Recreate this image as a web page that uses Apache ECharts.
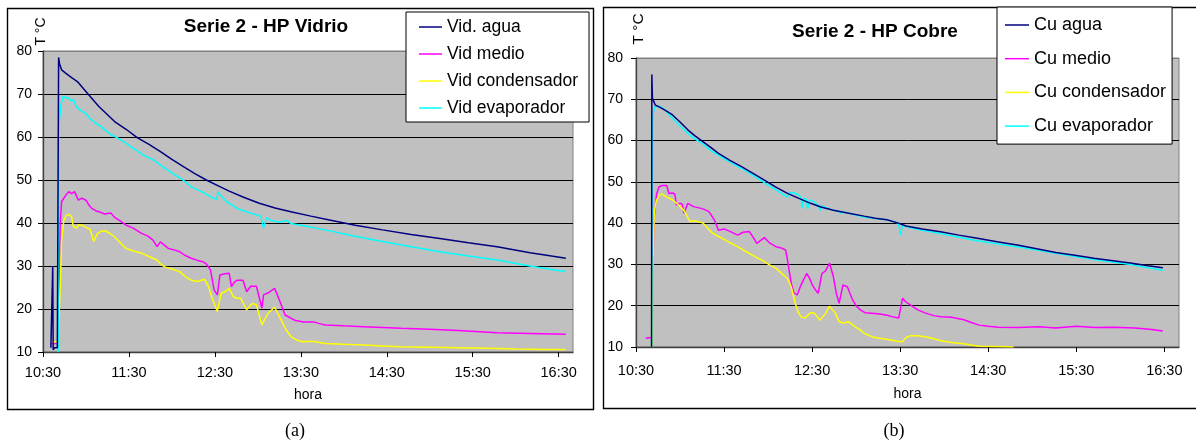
<!DOCTYPE html>
<html>
<head>
<meta charset="utf-8">
<script src="https://cdn.jsdelivr.net/npm/echarts@6/dist/echarts.min.js"></script>
<style>
html,body{margin:0;padding:0;background:#fff;}
#c{width:1196px;height:441px;}
</style>
</head>
<body>
<div id="c"></div>
<script>
// x values are minutes after 10:30
const tickMinutes = [0, 60, 120, 180, 240, 300, 360];
const yTicks = [10, 20, 30, 40, 50, 60, 70, 80];
const namesVidrio = ['Vid. agua', 'Vid medio', 'Vid condensador', 'Vid evaporador'];
const namesCobre = ['Cu agua', 'Cu medio', 'Cu condensador', 'Cu evaporador'];

const vidAgua = [[5.5,11],[6.5,11.2],[6.8,30],[7.1,10.5],[8,11],[10,11],[10.6,11],[10.9,78.5],[11.6,77],[13,75.6],[16,74.8],[20,73.8],[24,72.9],[31,70.2],[39,67.1],[50,63.6],[58,61.8],[66,59.8],[74,58.3],[82,56.6],[90,54.8],[98,53.1],[106,51.5],[114,50.0],[122,48.7],[130,47.4],[140,46.0],[151,44.6],[162,43.5],[173,42.6],[187,41.6],[200,40.7],[218,39.5],[237,38.4],[257,37.3],[277,36.4],[297,35.4],[317,34.5],[340,33.1],[355,32.3],[365,31.8]];
const vidMedio = [[5.5,12],[10.5,12],[11,20],[12,40],[13,45],[14,45.3],[16,46.5],[18,47.3],[20,46.8],[22,47.3],[24.7,45.3],[27,45.8],[30,45.3],[32,44.2],[34,43.4],[37,42.8],[39.4,42.6],[43,42.1],[47.5,42.3],[50,41.3],[52.8,40.7],[58,39.5],[63,38.8],[68.8,37.6],[73,37],[76.8,36],[79.6,34.5],[82,35.6],[87.5,34.1],[91,33.8],[95.5,33.3],[99,32.5],[103.5,31.8],[108,31.3],[111.5,31],[114,30.5],[116.9,29.1],[119.5,24.4],[121.7,23.3],[123.5,27.9],[127,28.2],[130,28.3],[131.5,25.2],[133.5,26.2],[135.6,26.7],[139.6,26.7],[142.2,24],[145,25.3],[149,25.3],[152.8,20.2],[154,23.3],[158,23.9],[161.7,24.8],[165,22.1],[169,18.6],[175.6,17.4],[182,17],[189,17],[193,16.6],[197,16.3],[210,16.1],[223.7,15.9],[237,15.7],[250,15.5],[270,15.3],[290,15],[317,14.5],[340,14.3],[365,14.1]];
const vidCond = [[5.5,12.4],[10.5,12.4],[11.2,12],[12,25],[13,36],[14.5,40.5],[16,41.7],[18,42],[20,41.5],[21,39.3],[23.4,38.8],[25,39.6],[27.4,39.5],[30,39],[33,38.5],[35.4,35.7],[38,37.6],[41,38.1],[43.4,38.2],[47,37.5],[50,36.8],[54,35.4],[58,34.1],[63,33.5],[68.8,33],[74,32.2],[79.6,31.4],[82,30.5],[84.9,29.8],[90,29.3],[95.5,28.7],[99,27.6],[103.5,26.7],[108,26.4],[112.8,26.9],[115.6,25.2],[118,22.5],[121.7,19.4],[124.3,23.6],[127,24],[130,24.8],[132.8,22.9],[135,22.5],[138,22.5],[142.2,19.8],[146,21.3],[149,21],[152.8,16.3],[157,19],[161.7,20.4],[166.3,17.4],[170,15],[173,13.6],[177,12.8],[181,12.4],[188,12.5],[197,12],[210,11.8],[223.7,11.6],[237,11.4],[250,11.2],[270,11.1],[290,11],[310,10.9],[330.5,10.7],[350,10.6],[365,10.6]];
const vidEvap = [[10.6,10],[10.9,62],[11.5,64],[12.5,67.5],[14,69.4],[16,69.2],[18,69.0],[20,68.3],[21,68.8],[23.4,67],[27,66],[30,65.5],[33,64.2],[36.8,63.2],[40,62.6],[44.8,61.2],[48,60.4],[52,59.8],[58,58.5],[64,57.2],[70,55.8],[77,54.7],[84,53],[90,51.6],[97,50.2],[103.5,48.4],[110,47.4],[116,46.3],[119.5,45.7],[121.5,45.5],[122,47.3],[123,46.8],[128,45],[135.6,43.4],[142,42.6],[148,42],[152,41.6],[154,38.8],[156,41.2],[160,40.5],[165,40.2],[170,40.6],[173,39.9],[180,39.5],[197,38.4],[217,37],[237,35.7],[257,34.5],[277,33.3],[297,32.3],[317,31.4],[340,30],[355,29.2],[365,28.7]];

const cuAgua = [[10.6,10],[10.8,76],[11.2,70.3],[12,70.5],[13.1,68.6],[15,68.3],[17,67.9],[20,67.3],[24.9,66.2],[30,64.5],[35.3,62.6],[40,61.2],[45.8,59.7],[50,58.6],[56.2,56.9],[64,55.2],[71.9,53.7],[80,52],[87.5,50.4],[95,48.8],[103.2,47.2],[111,46],[118.9,44.8],[126,43.9],[134.5,43.1],[145,42.4],[155.4,41.7],[163,41.2],[171,40.8],[178.8,40.0],[184,39.3],[195,38.6],[207.5,37.9],[220,37.1],[233.6,36.3],[246,35.5],[259.8,34.7],[273,33.8],[286,32.9],[299,32.2],[312,31.5],[325,30.9],[338,30.3],[349,29.7],[359,29.2]];
const cuMedio = [[6.6,12.1],[10.5,12.3],[11,13],[11.5,30],[12.5,42],[14,47],[15.7,48.8],[18,49.1],[21,49.1],[22.3,47.2],[25,47.3],[26.5,47],[27.5,44.4],[30,44.8],[31.5,44.6],[32.7,42.4],[35.3,44.8],[39.2,44],[43,43.7],[46,43.4],[49.7,42.8],[51.5,41.8],[53.6,40.6],[56.2,38.3],[60,38.6],[64,38],[69.3,37.1],[73,37.8],[77.1,38],[80,36.5],[82.3,35.1],[87.5,36.5],[91,35.2],[95.4,34.3],[99,34],[101.9,33.5],[103.2,31.1],[105.8,25.4],[107.5,23.2],[109.8,22.6],[112.4,25],[116.3,27.8],[118,26.8],[120.2,25],[122,24],[124.1,23],[126.7,27.8],[129,28.4],[131.9,30.3],[134.5,27],[136.5,23],[138.4,20.6],[141,25],[144,24.6],[147.6,21.4],[150,20],[152.9,19],[156,18.3],[160.7,18.2],[166,18],[171.2,17.7],[175,17.3],[179,17],[180.3,16.6],[181.6,21.8],[184,20.9],[186.9,20.2],[192,19],[197.3,18.2],[203,17.6],[207.8,17.3],[215,17.2],[223.4,16.6],[228,16],[233.9,15.3],[240,15],[246.9,14.8],[260,14.7],[275,14.9],[286,14.6],[300,15],[313,14.7],[325,14.8],[340,14.6],[350,14.3],[359,13.9]];
const cuCond = [[11,10],[11.5,30],[12.5,43],[14,45.6],[16,46.8],[17.5,47.1],[21,46.3],[25,45.6],[29,44.4],[32.7,43.1],[36.7,40.4],[40,40.6],[45.8,40],[51,37.9],[55,37],[58.8,36.3],[64,35.3],[69.2,34.3],[73,33.5],[77.1,32.7],[82,31.7],[87.5,30.7],[91,29.9],[95.4,29.1],[99,27.9],[103.2,26.6],[105.8,24.6],[108.5,20.6],[110.5,18.5],[112.4,17.3],[115,17],[118.9,18.3],[121.5,18.2],[125.4,16.5],[129.3,18.2],[131.9,19.9],[135.8,18.2],[138.4,16.1],[141,15.8],[145,16.1],[149,15],[152.9,14.1],[156,13.2],[160.7,12.5],[166,12.1],[173.8,11.7],[178,11.4],[181.6,11.3],[184,12.3],[186.9,12.7],[192,12.7],[198,12.4],[203,12],[207.8,11.5],[215,11.1],[223.4,10.8],[228,10.5],[233.9,10.2],[245,10.1],[257.3,10]];
const cuEvap = [[10.7,10],[11,60],[11.4,66],[12.5,68],[14,68.3],[17,68.2],[20,67.3],[24.9,65.4],[30,63.6],[35.3,61.8],[40,60.4],[45.8,59.2],[50,57.8],[56.2,56.5],[64,54.8],[71.9,53.3],[80,51.5],[87.5,49.8],[95,48.1],[103.2,46.3],[104.5,47.4],[108,47.3],[111,46.8],[112.5,46.2],[113.2,43.7],[114,46],[116,45.8],[117,43.4],[118.2,45.6],[121,45.2],[124,44.4],[125.5,43],[126.5,44.2],[130,43.7],[134.5,43.1],[138,42.9],[140,42.3],[141,42.8],[148,42.1],[155.4,41.5],[163,41.1],[171,40.8],[178.8,40.0],[180.3,37.1],[181.5,39.4],[186,39.0],[195,38.3],[207.5,37.5],[220,36.6],[233.6,35.7],[246,35],[259.8,34.3],[273,33.5],[286,32.7],[299,31.9],[312,31.2],[325,30.6],[338,29.9],[349,29.2],[359,28.6]];

const colors = ['#000080', '#ff00ff', '#ffff00', '#00ffff'];
const FONT = '"Liberation Sans", Arial, sans-serif';

function fmtTime(v) {
  const total = 630 + v;
  const h = Math.floor(total / 60);
  const m = Math.round(total % 60);
  return h + ':' + (m < 10 ? '0' + m : m);
}

function makeX(gi, margin, nameGap) {
  return {
    type: 'value', gridIndex: gi, min: 0, max: 370,
    name: 'hora', nameLocation: 'middle', nameGap: nameGap,
    nameTextStyle: { fontFamily: FONT, fontSize: 14, color: '#000' },
    axisLine: { show: true, lineStyle: { color: '#404040', width: 1.3 } },
    axisTick: { show: true, length: 5, customValues: tickMinutes, lineStyle: { color: '#000' } },
    axisLabel: { customValues: tickMinutes, formatter: fmtTime, margin: margin, fontFamily: FONT, fontSize: 14.5, color: '#000' },
    splitLine: { show: false }
  };
}
function makeY(gi, margin) {
  return {
    type: 'value', gridIndex: gi, min: yTicks[0], max: yTicks[yTicks.length - 1], interval: 10,
    axisLine: { show: true, lineStyle: { color: '#404040', width: 1.3 } },
    axisTick: { show: true, length: 5, lineStyle: { color: '#000' } },
    axisLabel: { margin: margin, fontFamily: FONT, fontSize: 14, color: '#000' },
    splitLine: { show: true, lineStyle: { color: ['#000','#000','#000','#000','#000','#000','#000','#808080'], width: 1 } }
  };
}
function makeSeries(names, datas, gi) {
  return names.map((n, i) => ({
    name: n, type: 'line', xAxisIndex: gi, yAxisIndex: gi,
    data: datas[i], showSymbol: false, symbol: 'none',
    lineStyle: { color: colors[i], width: 1.5 }, itemStyle: { color: colors[i] },
    z: i === 0 ? 5 : 3 + i * 0.1, silent: true, animation: false
  }));
}

const chart = echarts.init(document.getElementById('c'), null, { renderer: 'canvas' });
chart.setOption({
  animation: false,
  backgroundColor: '#fff',
  grid: [
    { left: 43, top: 51, width: 530, height: 301, show: true, backgroundColor: '#c0c0c0', borderColor: '#808080', borderWidth: 1 },
    { left: 636, top: 58, width: 543, height: 289, show: true, backgroundColor: '#c0c0c0', borderColor: '#808080', borderWidth: 1 }
  ],
  xAxis: [makeX(0, 13, 36), makeX(1, 16, 40)],
  yAxis: [makeY(0, 11), makeY(1, 13)],
  legend: [
    {
      data: namesVidrio, orient: 'vertical', left: 406, top: 12, selectedMode: false,
      backgroundColor: '#fff', borderColor: '#000', borderWidth: 1,
      icon: 'rect', itemWidth: 23, itemHeight: 1.5,
      padding: [6, 11, 5, 13], itemGap: 9,
      textStyle: { fontFamily: FONT, fontSize: 17.5, color: '#000' }
    },
    {
      data: namesCobre, orient: 'vertical', left: 997, top: 7, selectedMode: false,
      backgroundColor: '#fff', borderColor: '#000', borderWidth: 1,
      icon: 'rect', itemWidth: 24, itemHeight: 1.5,
      padding: [9, 6, 9, 8], itemGap: 15.7,
      textStyle: { fontFamily: FONT, fontSize: 18, color: '#000' }
    }
  ],
  graphic: [
    { type: 'rect', shape: { x: 7.5, y: 8.5, width: 586, height: 401 }, style: { fill: null, stroke: '#000', lineWidth: 1.4 }, z: -1, silent: true },
    { type: 'rect', shape: { x: 603.5, y: 7.5, width: 640, height: 401 }, style: { fill: null, stroke: '#000', lineWidth: 1.4 }, z: -1, silent: true },
    { type: 'text', x: 266, y: 27, style: { text: 'Serie 2 - HP Vidrio', font: 'bold 19px ' + FONT, fill: '#000', textAlign: 'center', textVerticalAlign: 'middle' } },
    { type: 'text', x: 875, y: 32, style: { text: 'Serie 2 - HP Cobre', font: 'bold 19px ' + FONT, fill: '#000', textAlign: 'center', textVerticalAlign: 'middle' } },
    { type: 'text', x: 41.5, y: 31.5, rotation: Math.PI / 2, style: { text: 'T °C', font: '14px ' + FONT, fill: '#000', textAlign: 'center', textVerticalAlign: 'middle' } },
    { type: 'text', x: 639, y: 29, rotation: Math.PI / 2, style: { text: 'T °C', font: '15.5px ' + FONT, fill: '#000', textAlign: 'center', textVerticalAlign: 'middle' } },
    { type: 'text', x: 295, y: 431, style: { text: '(a)', font: '18px "Liberation Serif", "Times New Roman", serif', fill: '#000', textAlign: 'center', textVerticalAlign: 'middle' } },
    { type: 'text', x: 894, y: 431, style: { text: '(b)', font: '18px "Liberation Serif", "Times New Roman", serif', fill: '#000', textAlign: 'center', textVerticalAlign: 'middle' } }
  ],
  series: [].concat(
    makeSeries(namesVidrio, [vidAgua, vidMedio, vidCond, vidEvap], 0),
    makeSeries(namesCobre, [cuAgua, cuMedio, cuCond, cuEvap], 1)
  )
});
</script>
</body>
</html>
